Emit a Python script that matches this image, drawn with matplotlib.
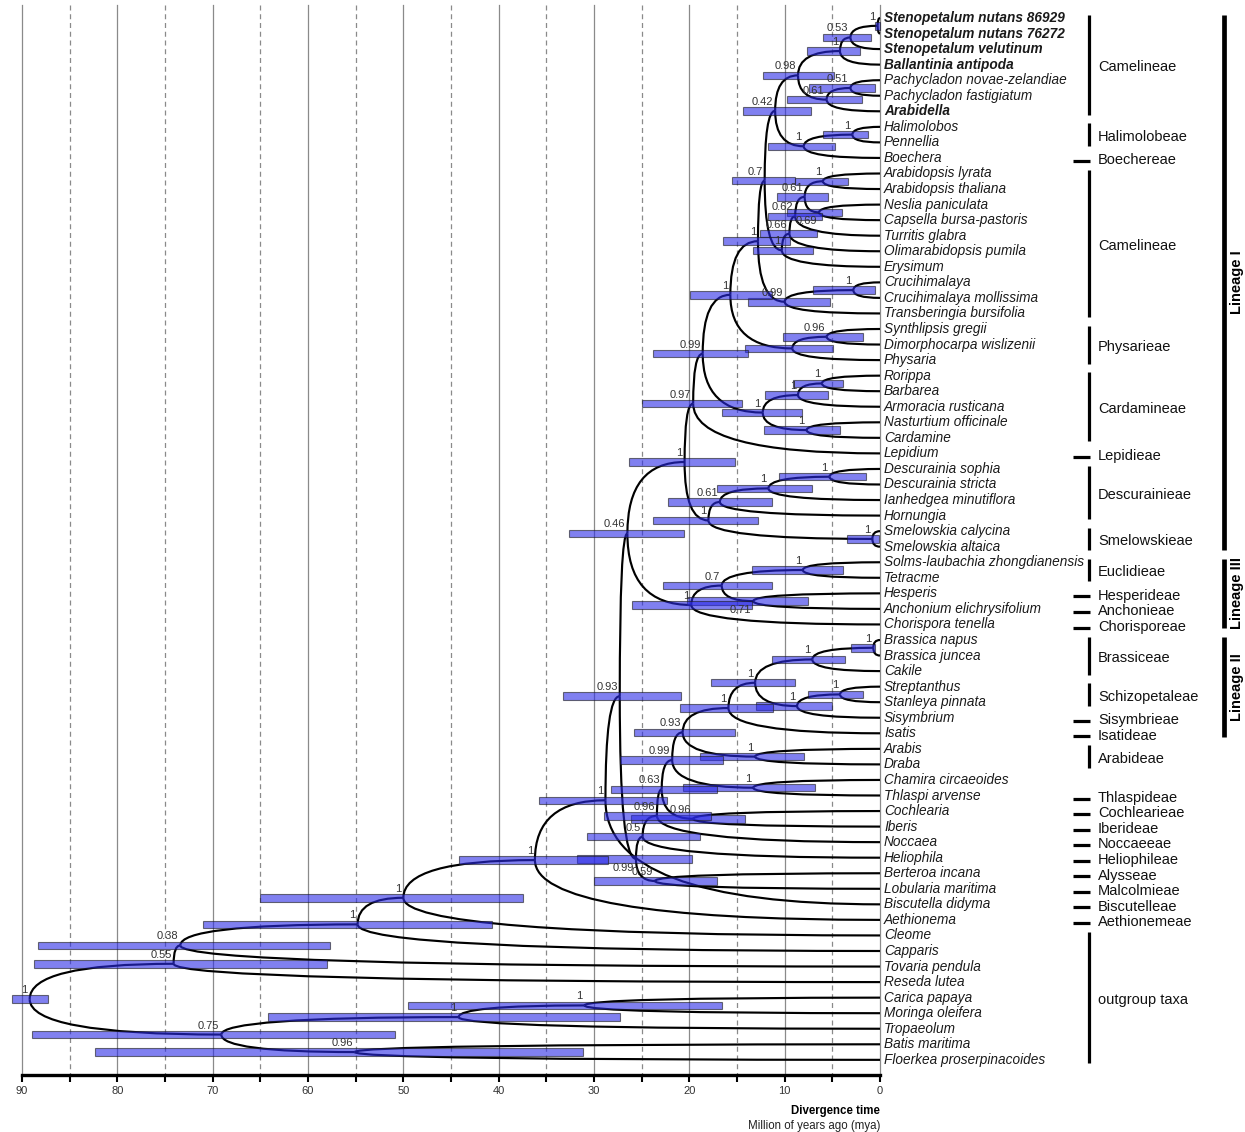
import matplotlib
matplotlib.use("Agg")
import matplotlib.pyplot as plt
from matplotlib.path import Path
from matplotlib.patches import PathPatch, Rectangle

plt.rcParams["font.family"] = ["Liberation Sans", "DejaVu Sans"]

#%% --- Data : tips (top to bottom) ---

taxa = ["Stenopetalum nutans 86929", "Stenopetalum nutans 76272", "Stenopetalum velutinum",
        "Ballantinia antipoda", "Pachycladon novae-zelandiae", "Pachycladon fastigiatum",
        "Arabidella", "Halimolobos", "Pennellia", "Boechera", "Arabidopsis lyrata",
        "Arabidopsis thaliana", "Neslia paniculata", "Capsella bursa-pastoris", "Turritis glabra",
        "Olimarabidopsis pumila", "Erysimum", "Crucihimalaya", "Crucihimalaya mollissima",
        "Transberingia bursifolia", "Synthlipsis gregii", "Dimorphocarpa wislizenii", "Physaria",
        "Rorippa", "Barbarea", "Armoracia rusticana", "Nasturtium officinale", "Cardamine",
        "Lepidium", "Descurainia sophia", "Descurainia stricta", "Ianhedgea minutiflora",
        "Hornungia", "Smelowskia calycina", "Smelowskia altaica", "Solms-laubachia zhongdianensis",
        "Tetracme", "Hesperis", "Anchonium elichrysifolium", "Chorispora tenella", "Brassica napus",
        "Brassica juncea", "Cakile", "Streptanthus", "Stanleya pinnata", "Sisymbrium", "Isatis",
        "Arabis", "Draba", "Chamira circaeoides", "Thlaspi arvense", "Cochlearia", "Iberis",
        "Noccaea", "Heliophila", "Berteroa incana", "Lobularia maritima", "Biscutella didyma",
        "Aethionema", "Cleome", "Capparis", "Tovaria pendula", "Reseda lutea", "Carica papaya",
        "Moringa oleifera", "Tropaeolum", "Batis maritima", "Floerkea proserpinacoides"]

bold_taxa = ["Stenopetalum nutans 86929", "Stenopetalum nutans 76272", "Stenopetalum velutinum",
             "Ballantinia antipoda", "Arabidella"]

#%% --- Data : internal nodes (children listed before parents) ---

node_names = ["n1", "n2", "n3", "n4", "n5", "n6", "n7", "n8", "n9",
              "a1", "a2", "a3", "a4", "a5", "a6", "a7", "c1", "c2", "a8",
              "p1", "p2", "a9", "k1", "k2", "k3", "k4", "b1", "b2",
              "d1", "d2", "d3", "s1", "d4", "b3", "e1", "e2", "e3", "e4", "b4",
              "r1", "r2", "r3", "r4", "r5", "r6", "r7", "r8", "r9", "r10", "r11",
              "r12", "r13", "r14", "r15", "r16", "r17", "r18", "r19",
              "o1", "o2", "o3", "o4", "o5", "o6", "o7", "o8", "root"]

node_kids = [("Stenopetalum nutans 86929", "Stenopetalum nutans 76272"),
             ("n1", "Stenopetalum velutinum"), ("n2", "Ballantinia antipoda"),
             ("Pachycladon novae-zelandiae", "Pachycladon fastigiatum"), ("n4", "Arabidella"),
             ("n3", "n5"), ("Halimolobos", "Pennellia"), ("n7", "Boechera"), ("n6", "n8"),
             ("Arabidopsis lyrata", "Arabidopsis thaliana"),
             ("Neslia paniculata", "Capsella bursa-pastoris"), ("a1", "a2"),
             ("a3", "Turritis glabra"), ("a4", "Olimarabidopsis pumila"), ("a5", "Erysimum"),
             ("n9", "a6"), ("Crucihimalaya", "Crucihimalaya mollissima"),
             ("c1", "Transberingia bursifolia"), ("a7", "c2"),
             ("Synthlipsis gregii", "Dimorphocarpa wislizenii"), ("p1", "Physaria"), ("a8", "p2"),
             ("Rorippa", "Barbarea"), ("k1", "Armoracia rusticana"),
             ("Nasturtium officinale", "Cardamine"), ("k2", "k3"), ("a9", "k4"), ("b1", "Lepidium"),
             ("Descurainia sophia", "Descurainia stricta"), ("d1", "Ianhedgea minutiflora"),
             ("d2", "Hornungia"), ("Smelowskia calycina", "Smelowskia altaica"), ("d3", "s1"),
             ("b2", "d4"), ("Solms-laubachia zhongdianensis", "Tetracme"),
             ("Hesperis", "Anchonium elichrysifolium"), ("e1", "e2"), ("e3", "Chorispora tenella"),
             ("b3", "e4"),
             ("Brassica napus", "Brassica juncea"), ("r1", "Cakile"),
             ("Streptanthus", "Stanleya pinnata"), ("r3", "Sisymbrium"), ("r2", "r4"),
             ("r5", "Isatis"), ("Arabis", "Draba"), ("r6", "r7"),
             ("Chamira circaeoides", "Thlaspi arvense"), ("r8", "r9"), ("Cochlearia", "Iberis"),
             ("r10", "r11"), ("r12", "Noccaea"), ("r13", "Heliophila"),
             ("Berteroa incana", "Lobularia maritima"), ("r14", "r15"), ("b4", "r16"),
             ("r17", "Biscutella didyma"), ("r18", "Aethionema"),
             ("r19", "Cleome"), ("o1", "Capparis"), ("o2", "Tovaria pendula"),
             ("o3", "Reseda lutea"), ("Carica papaya", "Moringa oleifera"), ("o5", "Tropaeolum"),
             ("Batis maritima", "Floerkea proserpinacoides"), ("o6", "o7"), ("o4", "o8")]

# node height (mya) and 95% HPD interval
node_age = [0.25, 3.1, 4.2, 3.1, 5.6, 8.6, 2.9, 8.0, 11.0,
            6.0, 6.4, 7.9, 8.9, 9.5, 10.3, 12.1, 2.8, 10.0, 12.8,
            5.6, 9.2, 15.7, 6.1, 8.6, 7.7, 12.3, 18.6, 19.6,
            5.3, 11.7, 16.8, 0.8, 18.0, 20.5, 8.1, 13.3, 16.6, 19.8, 26.5,
            0.7, 7.1, 4.2, 8.7, 13.1, 15.9, 13.1, 20.7, 13.3, 21.8, 19.6,
            22.9, 23.4, 24.9, 23.6, 25.6, 27.3, 28.8, 36.2,
            50.0, 54.8, 73.4, 74.1, 31.0, 44.2, 55.1, 69.1, 89.2]
hpd_old = [0.55, 6.0, 7.7, 7.4, 9.8, 12.3, 6.0, 11.7, 14.4,
           8.9, 9.8, 10.8, 11.7, 12.6, 13.3, 15.5, 7.0, 13.8, 16.5,
           10.2, 14.2, 19.9, 9.1, 12.1, 12.2, 16.6, 23.8, 25.0,
           10.6, 17.1, 22.2, 3.5, 23.8, 26.3, 13.4, 20.2, 22.8, 26.0, 32.6,
           3.0, 11.3, 7.6, 13.0, 17.7, 21.0, 18.9, 25.8, 20.7, 27.3, 26.1,
           28.2, 29.0, 30.7, 30.0, 31.8, 33.3, 35.8, 44.2,
           65.0, 71.0, 88.3, 88.7, 49.5, 64.2, 82.3, 89.0, 91.1]
hpd_young = [0.05, 0.9, 2.1, 0.5, 1.9, 4.8, 1.3, 4.7, 7.2,
             3.4, 4.0, 5.5, 6.1, 6.6, 7.0, 8.9, 0.5, 5.2, 9.4,
             1.8, 4.9, 11.3, 3.9, 5.5, 4.2, 8.2, 13.8, 14.5,
             1.5, 7.1, 11.3, 0.1, 12.8, 15.2, 3.9, 7.6, 11.3, 13.4, 20.6,
             0.5, 3.7, 1.8, 5.0, 8.9, 11.2, 8.0, 15.2, 6.8, 16.5, 14.2,
             17.1, 17.7, 18.9, 17.1, 19.7, 20.9, 22.3, 28.5,
             37.4, 40.7, 57.7, 58.0, 16.6, 27.3, 31.2, 50.9, 87.3]
node_support = ["1", "0.53", "1", "0.51", "0.61", "0.98", "1", "1", "0.42",
                "1", "0.69", "0.61", "0.62", "0.66", "1", "0.7", "1", "0.99", "1",
                "0.96", "", "1", "1", "1", "1", "1", "0.99", "0.97",
                "1", "1", "0.61", "1", "1", "1", "1", "0.71", "0.7", "1", "0.46",
                "1", "1", "1", "1", "1", "1", "1", "0.93", "1", "0.99", "0.96",
                "0.63", "0.96", "0.5", "0.59", "0.99", "0.93", "1", "1",
                "1", "1", "0.38", "0.55", "1", "1", "0.96", "0.75", "1"]
support_below = ["a2", "e2", "r16"]

#%% --- Data : tribes and lineages (first/last tip row) ---

tribe_names = ["Camelineae", "Halimolobeae", "Boechereae", "Camelineae", "Physarieae",
               "Cardamineae", "Lepidieae", "Descurainieae", "Smelowskieae", "Euclidieae",
               "Hesperideae", "Anchonieae", "Chorisporeae", "Brassiceae", "Schizopetaleae",
               "Sisymbrieae", "Isatideae", "Arabideae", "Thlaspideae", "Cochlearieae",
               "Iberideae", "Noccaeeae", "Heliophileae", "Alysseae", "Malcolmieae",
               "Biscutelleae", "Aethionemeae", "outgroup taxa"]
tribe_first = [0, 7, 9, 10, 20, 23, 28, 29, 33, 35, 37, 38, 39, 40, 43, 45, 46, 47,
               50, 51, 52, 53, 54, 55, 56, 57, 58, 59]
tribe_last = [6, 8, 9, 19, 22, 27, 28, 32, 34, 36, 37, 38, 39, 42, 44, 45, 46, 48,
              50, 51, 52, 53, 54, 55, 56, 57, 58, 67]

lineage_names = ["Lineage I", "Lineage III", "Lineage II"]
lineage_first = [0, 35, 40]
lineage_last = [34, 39, 46]

major_ticks = [0, 10, 20, 30, 40, 50, 60, 70, 80, 90]
minor_ticks = [5, 15, 25, 35, 45, 55, 65, 75, 85]

#%% --- Layout (pixel geometry of the 1245 x 1132 canvas) ---

W_PX, H_PX = 1245, 1132
X0_PX = 880          # pixel of 0 mya
PX_PER_MYA = 9.533
ROW0_PX = 18         # pixel of first tip row
ROW_PX = 15.55
AXIS_PX = 1075


def row_at(px):
    return (px - ROW0_PX) / ROW_PX


def mya_at(px):
    return (X0_PX - px) / PX_PER_MYA


# --- tree coordinates ---
node_y = {name: i for i, name in enumerate(taxa)}
node_x = {name: 0.0 for name in taxa}
for name, kids, age in zip(node_names, node_kids, node_age):
    node_y[name] = sum(node_y[k] for k in kids) / 2.0
    node_x[name] = age

#%% --- Figure ---

fig = plt.figure(figsize=(W_PX / 100, H_PX / 100), dpi=100)
ax = fig.add_axes([0, (H_PX - AXIS_PX) / H_PX, 1, AXIS_PX / H_PX])
ax.set_xlim(mya_at(0), mya_at(W_PX))
ax.set_ylim(row_at(AXIS_PX), row_at(0))

# --- grid lines ---
for t in major_ticks + minor_ticks:
    ax.plot([t, t], [row_at(5), row_at(AXIS_PX)], color="#8a8a8a", lw=0.9,
            ls="-" if t % 10 == 0 else (0, (4, 3)), zorder=0)

# --- curved branches ---
for name, kids in zip(node_names, node_kids):
    px, py = node_x[name], node_y[name]
    for k in kids:
        cx, cy = node_x[k], node_y[k]
        path = Path([(px, py), (px, cy), (cx, cy)], [Path.MOVETO, Path.CURVE3, Path.CURVE3])
        ax.add_patch(PathPatch(path, fill=False, lw=1.55, ec="black", zorder=2))

# --- HPD bars ---
for name, old, young in zip(node_names, hpd_old, hpd_young):
    ax.add_patch(Rectangle((young, node_y[name] - 0.24), old - young, 0.48,
                           fc=(0.17, 0.17, 0.9), ec="#1a1a1a", lw=0.8, alpha=0.6, zorder=3))

# --- posterior labels ---
for name, sup in zip(node_names, node_support):
    if not sup:
        continue
    if name in support_below:
        ax.text(node_x[name] + 0.2, node_y[name] + 0.26, sup, ha="right", va="top",
                fontsize=8, color="#333333", zorder=4)
    else:
        ax.text(node_x[name] + 0.2, node_y[name] - 0.26, sup, ha="right", va="bottom",
                fontsize=8, color="#333333", zorder=4)

# --- tip labels ---
for i, name in enumerate(taxa):
    ax.text(mya_at(884), i, name, ha="left", va="center", style="italic", fontsize=9.8,
            color="#1a1a1a", fontweight="bold" if name in bold_taxa else "normal")

# --- tribe brackets ---
bar_x = mya_at(1089)
for tname, first, last in zip(tribe_names, tribe_first, tribe_last):
    if first == last:
        ax.plot([mya_at(1073), mya_at(1090)], [first + 0.2, first + 0.2], color="black",
                lw=2.3, solid_capstyle="butt")
    else:
        ax.plot([bar_x, bar_x], [first - 0.22, last + 0.22], color="black", lw=2.3,
                solid_capstyle="butt")
    ax.text(mya_at(1098), (first + last) / 2 + 0.15, tname, ha="left", va="center",
            fontsize=10.5, color="#111111")

# --- lineage brackets ---
for lname, first, last in zip(lineage_names, lineage_first, lineage_last):
    ax.plot([mya_at(1224), mya_at(1224)], [first - 0.22, last + 0.22], color="black",
            lw=3.4, solid_capstyle="butt")
    ax.text(mya_at(1237), (first + last) / 2, lname, rotation=90, ha="center",
            va="center", fontsize=10.5, fontweight="bold")

# --- time axis ---
for side in ["top", "left", "right"]:
    ax.spines[side].set_visible(False)
ax.spines["bottom"].set_linewidth(2.4)
ax.spines["bottom"].set_bounds(0, 90)
ax.set_yticks([])
ax.set_xticks(major_ticks)
ax.set_xticklabels([str(t) for t in major_ticks])
ax.set_xticks(minor_ticks, minor=True)
ax.tick_params(axis="x", which="both", direction="out", length=5.2, width=1.5,
               labelsize=8, labelcolor="#333333", pad=3)

ax.text(0, row_at(1111), "Divergence time", ha="right", va="center", fontsize=8.3,
        fontweight="bold")
ax.text(0, row_at(1126), "Million of years ago (mya)", ha="right", va="center",
        fontsize=8.3, color="#222222")

fig.savefig("out.png", dpi=100, facecolor="white")
